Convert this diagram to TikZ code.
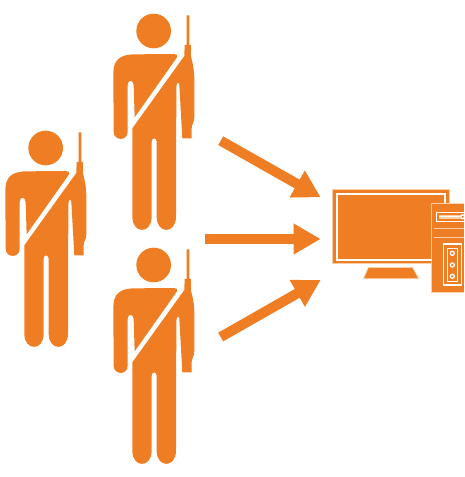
\documentclass[tikz,border=0pt]{standalone}
\usetikzlibrary{arrows.meta}
\definecolor{ink}{HTML}{EE7D23}
\definecolor{pale}{HTML}{F9CFA8}

\begin{document}
\begin{tikzpicture}[
  x=1pt, y=-1pt,
  flow/.style={-{Triangle[length=27pt,width=29pt]}, draw=ink, line width=10pt},
  cut/.style ={draw=white, line width=1.4pt},
  soft/.style={draw=pale, line width=1.2pt},
  pics/soldier/.style={code={
    \begin{scope}[x=0.3333pt, y=-0.3333pt]
      \fill[ink] (161,93) circle (52);
      % chest and left arm
      \fill[ink] (40,220) .. controls (40,180) and (60,163) .. (105,163)
        -- (222,162) .. controls (230,162) and (235,166) .. (231,172)
        -- (104,352) -- (101,255) .. controls (100,238) and (83,238) .. (83,255)
        -- (83,395) .. controls (83,424) and (41,424) .. (41,395) -- cycle;
      % body, legs, right arm and rifle
      \fill[ink] (97,385) -- (253,168) -- (254,135) -- (260,135) -- (260,46)
        -- (268,46) -- (268,135) -- (273,135) -- (273,170)
        .. controls (280,195) and (283,215) .. (283,240) -- (283,352)
        .. controls (283,368) and (275,372) .. (275,385) -- (275,415) -- (247,415)
        -- (238,255) .. controls (237,243) and (229,248) .. (229,262) -- (228,650)
        .. controls (228,703) and (170,703) .. (170,650) -- (170,425)
        .. controls (170,412) and (155,412) .. (155,425) -- (155,650)
        .. controls (155,703) and (97,703) .. (97,650) -- cycle;
    \end{scope}
  }}
]
\useasboundingbox (0,0) rectangle (464,477);

\pic at (100,0)   {soldier};
\pic at (-8,117)  {soldier};
\pic at (100,234) {soldier};

\coordinate (a) at (220.7,140.7);
\coordinate (b) at (205,239);
\coordinate (c) at (220.7,337);
\coordinate (d) at (320.7,197.3);
\coordinate (e) at (320.7,239);
\coordinate (f) at (320.7,280);

\draw[flow] (a) -- (d);
\draw[flow] (b) -- (e);
\draw[flow] (c) -- (f);

% monitor
\fill[ink, draw=pale, line width=0.6pt] (332.5,189.5) rectangle (449,263.5);
\draw[cut] (337,194) rectangle (445,260);
\fill[ink, draw=pale, line width=0.6pt] (363.5,278.7) -- (368.5,267.5) -- (412.5,267.5) -- (418.7,278.7) -- cycle;

% tower
\fill[ink] (431,203) rectangle (464,292.5);
\draw[soft] (464,203.5) -- (431.5,203.5) -- (431.5,292.5) -- (464,292.5);
\draw[cut] (464,212.3) -- (436.7,212.3) -- (436.7,221.3) -- (464,221.3);
\fill[pale] (438.5,214.5) rectangle (460,219);
\draw[cut] (438.5,216.7) -- (460,216.7);
\draw[cut] (462.7,216.7) circle (2);
\draw[soft] (433.5,228.5) -- (464,228.5);
\draw[soft] (433.5,237.5) -- (464,237.5);
\draw[cut] (443.5,244) rectangle (461.5,285);
\draw[cut, line width=0.8pt] (447.5,248) rectangle (457.5,281);
\foreach \y in {253.3,265,276.3}
  \draw[cut, line width=1.3pt] (452.3,\y) circle (2);

\end{tikzpicture}
\end{document}
